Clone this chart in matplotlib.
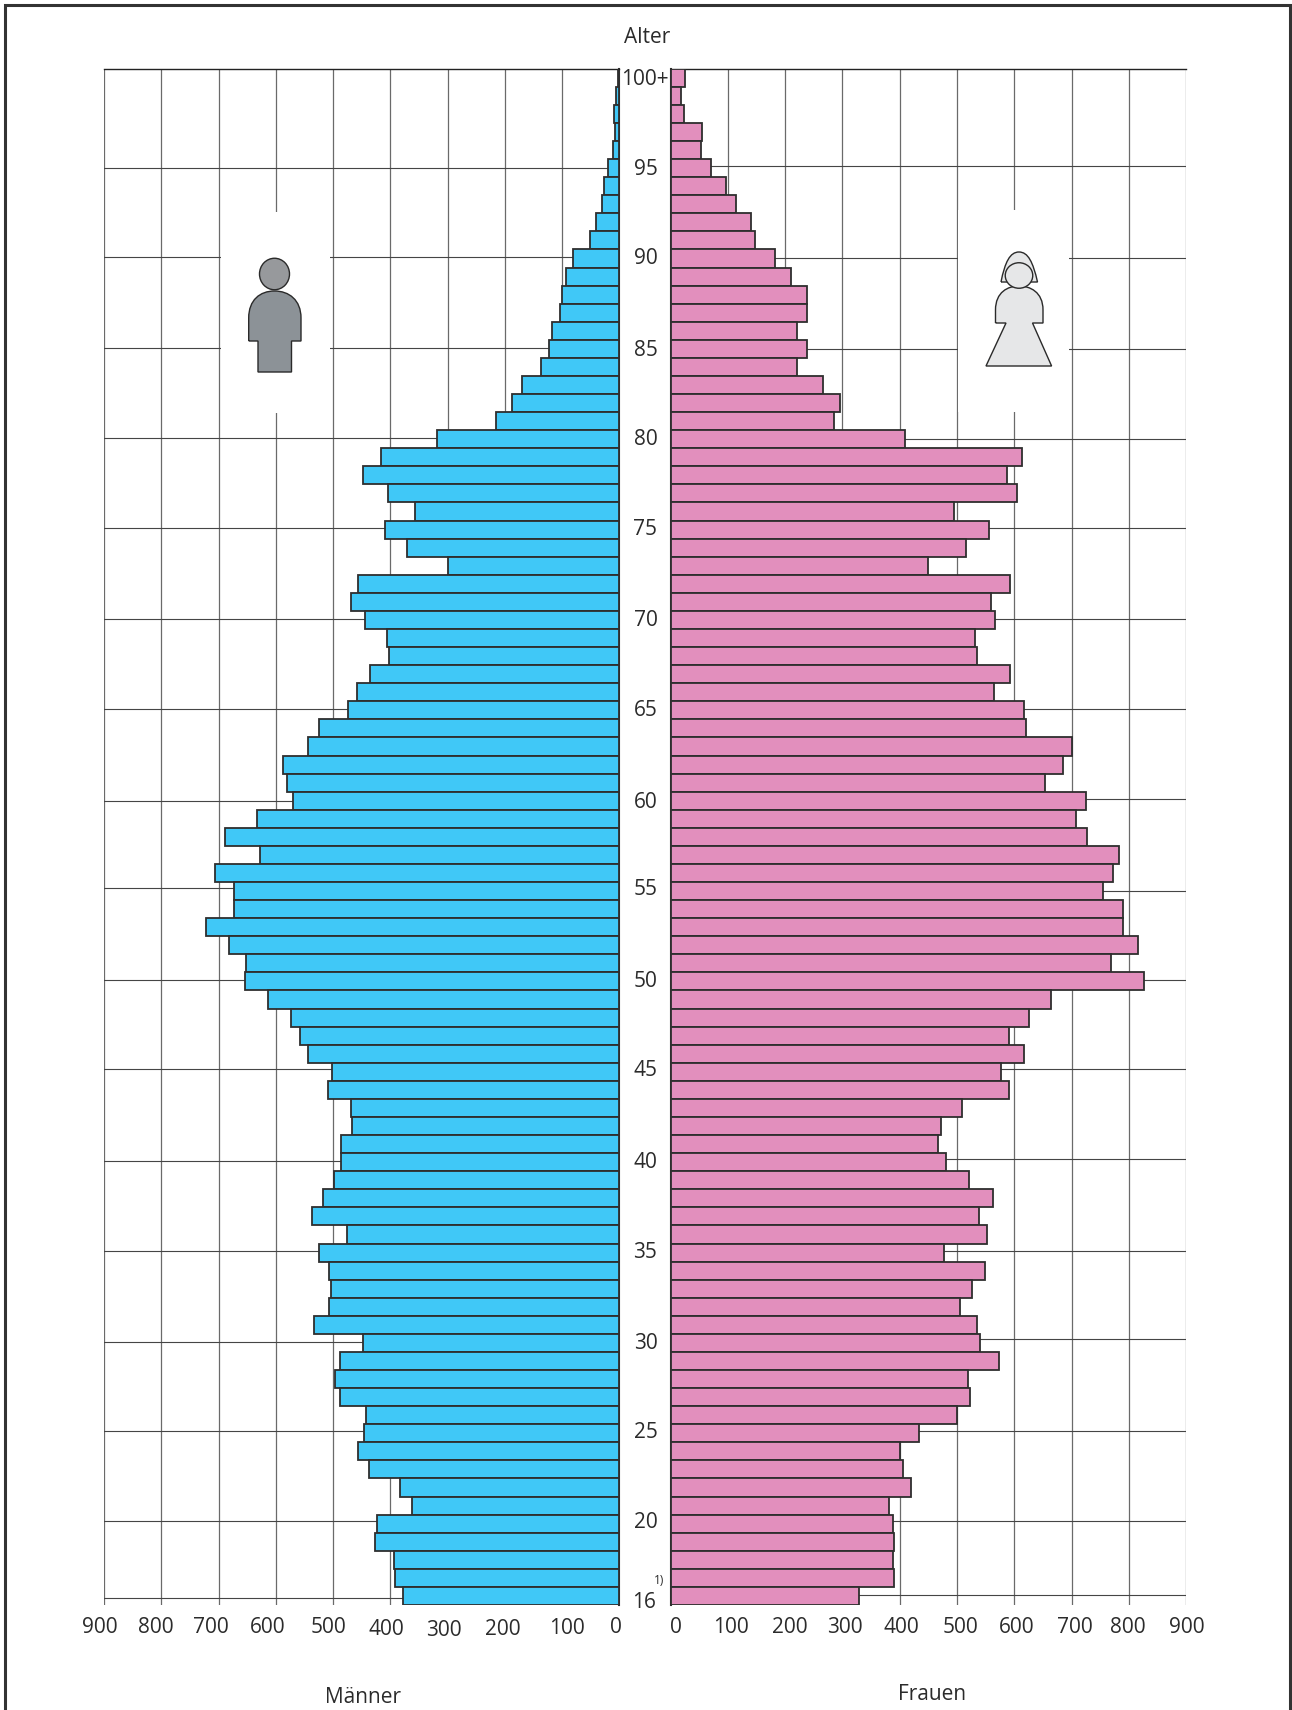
import matplotlib
matplotlib.use("Agg")
import matplotlib.pyplot as plt
from matplotlib.patches import Ellipse, PathPatch, Rectangle
from matplotlib.path import Path
from matplotlib.transforms import ScaledTranslation

plt.rcParams['font.family'] = ['Open Sans', 'DejaVu Sans']

W, H = 1292, 1710

# Ages from the top row (100+) down to 16
ages = list(range(100, 15, -1))
maenner = [2, 5, 9, 8, 11, 20, 27, 30, 40, 52, 80, 93, 100, 104, 117, 122, 137, 170, 187, 215,
           318, 417, 448, 404, 357, 410, 370, 299, 456, 469, 444, 406, 402, 435, 458, 473,
           524, 543, 587, 580, 570, 633, 688, 627, 706, 673, 673, 721, 681, 652, 654,
           614, 574, 557, 543, 502, 509, 469, 467, 486, 486, 498, 517, 536, 475, 524,
           507, 503, 507, 534, 448, 488, 496, 488, 442, 446, 456, 437, 383, 362, 423,
           427, 393, 391, 378]
frauen = [25, 18, 24, 55, 54, 70, 97, 115, 141, 147, 183, 210, 238, 238, 220, 239, 220, 266, 295, 285,
          410, 614, 588, 605, 495, 556, 516, 449, 592, 559, 567, 531, 535, 592, 565, 617,
          620, 700, 685, 653, 725, 708, 727, 782, 773, 754, 790, 790, 816, 769, 826,
          664, 626, 590, 617, 577, 590, 508, 472, 466, 481, 521, 563, 539, 552, 478,
          548, 527, 506, 535, 540, 573, 520, 523, 500, 434, 400, 405, 419, 382, 388,
          390, 388, 390, 329]
x_ticks = [0, 100, 200, 300, 400, 500, 600, 700, 800, 900]
age_ticks = [100, 95, 90, 85, 80, 75, 70, 65, 60, 55, 50, 45, 40, 35, 30, 25, 20, 16]
age_labels = ['100+', '95', '90', '85', '80', '75', '70', '65', '60', '55', '50', '45', '40', '35', '30', '25', '20', '16']
# The printed grid lines sit slightly off the row centres (pixel rows)
grid_rows_L = [168, 257.5, 348.5, 438, 527.7, 618.7, 709, 801.3, 887.8, 979.8, 1069.4, 1161.4, 1251, 1341.5, 1431, 1520.6, 1597.7]
grid_rows_R = [166, 258, 349, 438.6, 528, 618.7, 709, 798.8, 890.7, 979.8, 1069.4, 1159, 1251.4, 1339, 1431, 1520.6, 1595]

COL_M, COL_F = '#40C8F7', '#E28FBD'
EDGE = '#2e2e2e'
GRID_V = '#6a6a6a'
GRID_H = '#454545'
TXT = '#2b2b2b'
FS = 15
TOP, BOT = 68.7, 1605
ROW = (BOT - TOP) / 85

fig = plt.figure(figsize=(W / 100, H / 100), dpi=100)


def box(x0, x1, y0, y1):
    return [x0 / W, 1 - y1 / H, (x1 - x0) / W, (y1 - y0) / H]


axL = fig.add_axes(box(104.0, 619.3, TOP, BOT))
axR = fig.add_axes(box(670.5, 1186.2, TOP, BOT))
over = fig.add_axes([0, 0, 1, 1], zorder=5)
over.set_xlim(0, W)
over.set_ylim(H, 0)
over.axis('off')
over.patch.set_alpha(0)

for ax, vals, col, rows in ((axL, maenner, COL_M, grid_rows_L), (axR, frauen, COL_F, grid_rows_R)):
    ax.barh(ages, vals, height=1.0, color=col, edgecolor=EDGE, linewidth=1.3, zorder=3)
    ax.set_ylim(15.5, 100.5)
    ax.set_xticks(x_ticks)
    ax.set_yticks([100.5 - (r - TOP) / ROW for r in rows])
    ax.grid(True, axis='x', color=GRID_V, linewidth=0.9, zorder=0)
    ax.grid(True, axis='y', color=GRID_H, linewidth=0.8, zorder=0)
    ax.set_axisbelow(True)
    for s in ('left', 'right', 'bottom'):
        ax.spines[s].set_visible(False)
    ax.spines['top'].set_color('#222222')
    ax.spines['top'].set_linewidth(1.0)
    ax.tick_params(length=0, labelsize=FS, labelcolor=TXT, pad=8.8)
    ax.set_yticklabels([])

axL.set_xlim(900, 0)
axR.set_xlim(0, 900)
axL.spines['right'].set_visible(True)
axL.spines['right'].set_color(EDGE)
axL.spines['right'].set_linewidth(1.5)
axR.spines['left'].set_visible(True)
axR.spines['left'].set_color(EDGE)
axR.spines['left'].set_linewidth(1.5)

# white masks behind the figures (interrupt the grid)
axL.add_patch(Rectangle((221 / W, 1 - 413 / H), 109 / W, 201 / H, transform=fig.transFigure,
                        facecolor='white', edgecolor='none', zorder=2))
axR.add_patch(Rectangle((958 / W, 1 - 412 / H), 111 / W, 202 / H, transform=fig.transFigure,
                        facecolor='white', edgecolor='none', zorder=2))

# individual placement of the tick labels, as in the original
offs_L = {0: (-3, 0), 100: (5, 1), 200: (-2, 2), 300: (-4, 3), 400: (-4, 2), 500: (-5, 0),
          600: (-8, 0), 700: (-7.5, 0), 800: (-5, 0), 900: (-3.7, 0)}
offs_R = {0: (5, 0), 100: (3, 0), 200: (4.6, 0), 300: (2.6, 0), 400: (2, 0), 500: (3, 0),
          600: (2, 0), 700: (3.4, 0), 800: (-1, 0), 900: (1, 0)}
for ax, offs in ((axL, offs_L), (axR, offs_R)):
    ax.set_xticklabels([str(v) for v in x_ticks])
    for v, lab in zip(x_ticks, ax.get_xticklabels()):
        dx, dy = offs[v]
        lab.set_transform(lab.get_transform() + ScaledTranslation(dx / 100, -dy / 100, fig.dpi_scale_trans))

# age labels, centred in the gap and following the grid rows
label_rows = [TOP + 0.5 * ROW] + grid_rows_L
for a, s, row in zip(age_ticks, age_labels, label_rows):
    py = row + 1.5
    px = 645.5
    if a == 16:
        py += 3
        px -= 2
    if a == 100:
        px -= 1
    over.text(px, py, s, ha='center', va='center', fontsize=FS, color=TXT)
over.text(659.5, 1580, '1)', ha='center', va='center', fontsize=8.5, color=TXT)

over.text(647.6, 37.5, 'Alter', ha='center', va='center', fontsize=FS, color=TXT)
over.text(363, 1697, 'Männer', ha='center', va='center', fontsize=FS, color=TXT)
over.text(931.6, 1694.7, 'Frauen', ha='center', va='center', fontsize=FS, color=TXT)

# outer frame, open at the bottom
over.plot([5, 5, 1289.5, 1289.5], [H, 5.5, 5.5, H], color='#333333', lw=2.2, solid_joinstyle='miter', clip_on=False)

# male icon
over.add_patch(Ellipse((274.5, 274), 30, 31.5, facecolor='#97999C', edgecolor='#2a2a2a', lw=1))
M, L, C = Path.MOVETO, Path.LINETO, Path.CURVE4
verts = [(248.7, 341), (248.7, 318), (248.7, 300), (260, 291), (274.5, 291), (289, 291), (301, 300), (301, 318),
         (301, 341), (291.5, 341), (291.5, 372), (258, 372), (258, 341), (248.7, 341)]
codes = [M, L, C, C, C, C, C, C, L, L, L, L, L, L]
over.add_patch(PathPatch(Path(verts, codes), facecolor='#8C9297', edgecolor='#2a2a2a', lw=1))

# female icon
over.add_patch(PathPatch(Path([(1001, 282), (1005, 262), (1010, 252), (1019, 252), (1028, 252), (1033, 262), (1037.5, 282), (1001, 282)],
                              [M, C, C, C, C, C, C, L]),
                         facecolor='#E6E7E8', edgecolor='#2a2a2a', lw=1))
verts = [(995.5, 323), (995.5, 310), (995.5, 292), (1008, 286), (1019, 286), (1030, 286), (1043, 292), (1043, 310),
         (1043, 323), (1032.5, 323), (1051.6, 366), (986, 366), (1006, 323), (995.5, 323)]
codes = [M, L, C, C, C, C, C, C, L, L, L, L, L, L]
over.add_patch(PathPatch(Path(verts, codes), facecolor='#E6E7E8', edgecolor='#2a2a2a', lw=1))
over.add_patch(Ellipse((1019, 275.5), 27.5, 25.5, facecolor='#E6E7E8', edgecolor='#2a2a2a', lw=1))

fig.savefig('out.png', dpi=100, facecolor='white')
